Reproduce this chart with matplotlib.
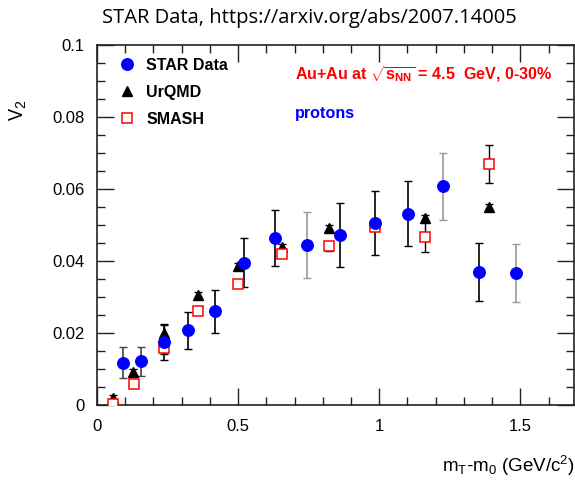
import matplotlib
matplotlib.use("Agg")
import matplotlib.pyplot as plt
from matplotlib.ticker import MultipleLocator, FuncFormatter

plt.rcParams['font.family'] = ['Liberation Sans', 'DejaVu Sans']
plt.rcParams['mathtext.fontset'] = 'custom'
plt.rcParams['mathtext.rm'] = 'Liberation Sans'
plt.rcParams['mathtext.it'] = 'Liberation Sans'
plt.rcParams['mathtext.bf'] = 'Liberation Sans:bold'

# STAR data, protons, Au+Au 4.5 GeV 0-30%
star_x = [0.092, 0.155, 0.237, 0.321, 0.418, 0.520, 0.630, 0.744, 0.860, 0.984, 1.102, 1.226, 1.353, 1.483]
star_v2 = [0.0118, 0.0121, 0.0175, 0.0207, 0.0260, 0.0395, 0.0463, 0.0445, 0.0472, 0.0506, 0.0531, 0.0607, 0.0370, 0.0366]
star_err = [0.0042, 0.0040, 0.0050, 0.0051, 0.0059, 0.0068, 0.0078, 0.0092, 0.0090, 0.0089, 0.0090, 0.0092, 0.0080, 0.0080]
star_errcol = ['#444444', '#444444', 'black', 'black', 'black', 'black', 'black', '#999999',
               'black', 'black', 'black', '#999999', 'black', '#999999']

urqmd_x = [0.056, 0.128, 0.237, 0.358, 0.500, 0.657, 0.822, 0.984, 1.161, 1.388]
urqmd_v2 = [0.0019, 0.0093, 0.0201, 0.0305, 0.0385, 0.0440, 0.0491, 0.0508, 0.0519, 0.0549]
urqmd_err = [0.0008, 0.0008, 0.0020, 0.0010, 0.0010, 0.0008, 0.0008, 0.0008, 0.0008, 0.0010]

smash_x = [0.057, 0.130, 0.237, 0.358, 0.500, 0.657, 0.822, 0.984, 1.161, 1.388]
smash_v2 = [0.0004, 0.0059, 0.0157, 0.0262, 0.0336, 0.0419, 0.0441, 0.0494, 0.0468, 0.0669]
smash_err = [0.0008, 0.0005, 0.0015, 0.0008, 0.0008, 0.0008, 0.0012, 0.0008, 0.0043, 0.0052]

fig = plt.figure(figsize=(5.75, 4.83), dpi=100)
ax = fig.add_axes([0.1687, 0.1615, 0.8296, 0.7453])

for x, y, e in zip(smash_x, smash_v2, smash_err):
    ax.errorbar(x, y, yerr=e, fmt='none', ecolor='black', elinewidth=1, capsize=3, zorder=2)
for x, y, e in zip(urqmd_x, urqmd_v2, urqmd_err):
    ax.errorbar(x, y, yerr=e, fmt='none', ecolor='black', elinewidth=1, capsize=3, zorder=2)
for x, y, e, c in zip(star_x, star_v2, star_err, star_errcol):
    ax.errorbar(x, y, yerr=e, fmt='none', ecolor=c, elinewidth=1.2, capsize=3, zorder=2)

ax.plot(urqmd_x, urqmd_v2, '^', color='black', ms=7, ls='none', zorder=3, label='UrQMD')
ax.plot(smash_x, smash_v2, 's', mfc='white', mec='red', mew=1.1, ms=7, ls='none', zorder=4, label='SMASH')
ax.plot(star_x, star_v2, 'o', color='blue', ms=8.3, ls='none', zorder=5, label='STAR Data')

ax.set_xlim(0, 1.69)
ax.set_ylim(0, 0.1)
ax.xaxis.set_major_locator(MultipleLocator(0.5))
ax.xaxis.set_minor_locator(MultipleLocator(0.1))
ax.yaxis.set_major_locator(MultipleLocator(0.02))
ax.yaxis.set_minor_locator(MultipleLocator(0.005))
ax.xaxis.set_major_formatter(FuncFormatter(lambda v, p: '0' if v == 0 else ('%g' % v)))
ax.yaxis.set_major_formatter(FuncFormatter(lambda v, p: '0' if v == 0 else ('%g' % round(v, 3))))
ax.tick_params(which='both', direction='in', top=True, right=True, labelsize=12, color='#222222')
ax.tick_params(which='major', length=12, width=1)
ax.tick_params(which='minor', length=6, width=1)
ax.tick_params(axis='x', which='major', pad=10)
ax.tick_params(axis='y', which='major', pad=9)
for s in ax.spines.values():
    s.set_linewidth(1.2)
    s.set_color('#222222')

h, l = ax.get_legend_handles_labels()
order = [2, 0, 1]
ax.legend([h[i] for i in order], [l[i] for i in order], loc='upper left', frameon=False,
          prop={'weight': 'bold', 'size': 11.5}, bbox_to_anchor=(0.02, 0.995),
          handletextpad=0.6, labelspacing=0.75, handlelength=1.2, borderaxespad=0.3)

ax.text(0.415, 0.92, r'Au+Au at $\sqrt{\mathbf{s}_{\mathbf{NN}}}$ = 4.5  GeV, 0-30%', transform=ax.transAxes,
        color='red', fontsize=11.6, fontweight='bold', va='center', ha='left')
ax.text(0.415, 0.81, 'protons', transform=ax.transAxes, color='blue', fontsize=11.6,
        fontweight='bold', va='center', ha='left')

fig.text(0.999, 0.035, r'm$_\mathrm{T}$-m$_\mathrm{0}$ (GeV/c$^2$)', ha='right', va='center', fontsize=13.5)
fig.text(0.032, 0.772, r'V$_2$', rotation=90, ha='center', va='center', fontsize=14.5,
         family=['Open Sans', 'DejaVu Sans'])
fig.text(0.538, 0.963, 'STAR Data, https://arxiv.org/abs/2007.14005', ha='center', va='center',
         fontsize=14.5, family=['Open Sans', 'DejaVu Sans'])

fig.savefig('out.png', dpi=100)
